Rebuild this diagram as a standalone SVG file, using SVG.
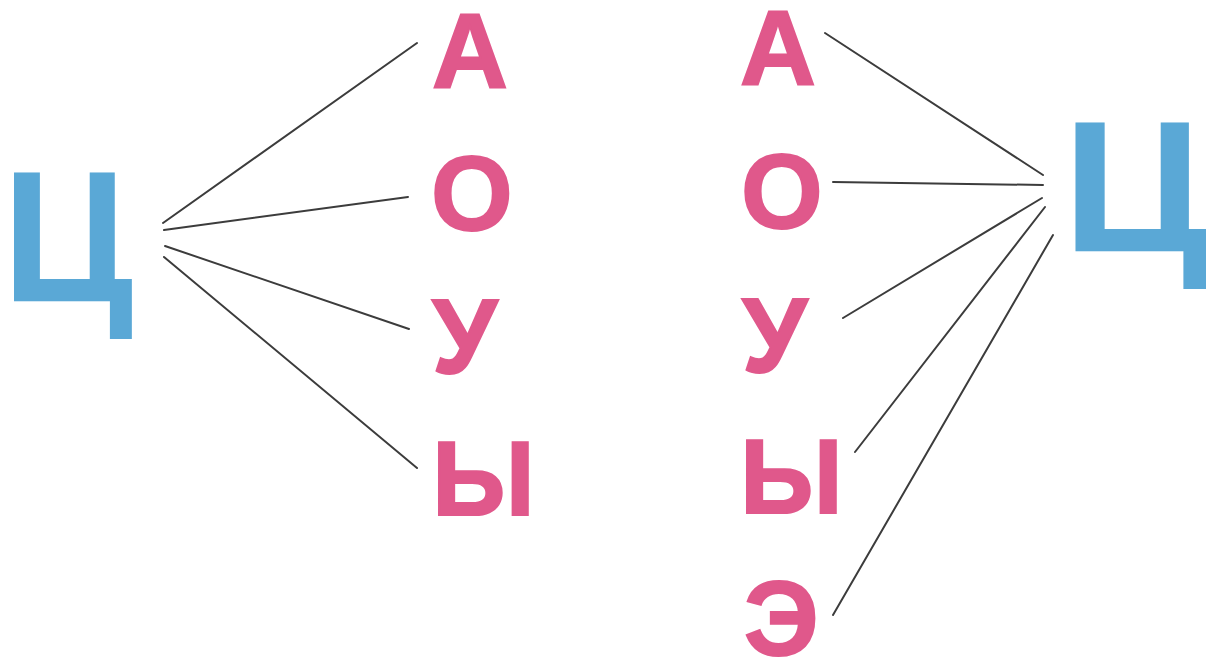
<svg xmlns="http://www.w3.org/2000/svg" width="1206" height="662" viewBox="0 0 1206 662">
<style>
.p{font-family:"Liberation Sans",Arial,sans-serif;font-weight:bold;font-size:105px;fill:#e0588b;stroke:#e0588b;stroke-width:2}
.b{font-family:"Liberation Sans",Arial,sans-serif;font-weight:bold;font-size:187px;fill:#5aa8d6}
.c line{stroke:#3c3c3c;stroke-width:2;stroke-linecap:round}
</style>
<rect width="1206" height="662" fill="#ffffff"/>
<g id="c-left"><text class="b" transform="translate(2,302) scale(0.96,1)" x="0" y="0">Ц</text></g>
<g id="l-a"><text class="p" x="432" y="88">А</text></g>
<g id="l-o"><text class="p" x="431" y="230">О</text></g>
<g id="l-u"><text class="p" x="432" y="373">У</text></g>
<g id="l-y"><text class="p" x="432" y="515">Ы</text></g>
<g id="r-a"><text class="p" x="740" y="85">А</text></g>
<g id="r-o"><text class="p" x="741" y="228">О</text></g>
<g id="r-u"><text class="p" x="742" y="372">У</text></g>
<g id="r-y"><text class="p" x="740" y="513">Ы</text></g>
<g id="r-e"><text class="p" x="744" y="655">Э</text></g>
<g id="c-right"><text class="b" transform="translate(1062,252) scale(1.08,1)" x="0" y="0">Ц</text></g>
<g id="connectors" class="c">
<line x1="163" y1="223" x2="417" y2="43"/>
<line x1="164" y1="230" x2="408" y2="197"/>
<line x1="165" y1="246" x2="409" y2="329"/>
<line x1="164" y1="257" x2="417" y2="468"/>
<line x1="825" y1="33" x2="1043" y2="175"/>
<line x1="833" y1="182" x2="1043" y2="185"/>
<line x1="843" y1="318" x2="1042" y2="198"/>
<line x1="855" y1="452" x2="1045" y2="207"/>
<line x1="833" y1="615" x2="1053" y2="235"/>
</g>
</svg>
